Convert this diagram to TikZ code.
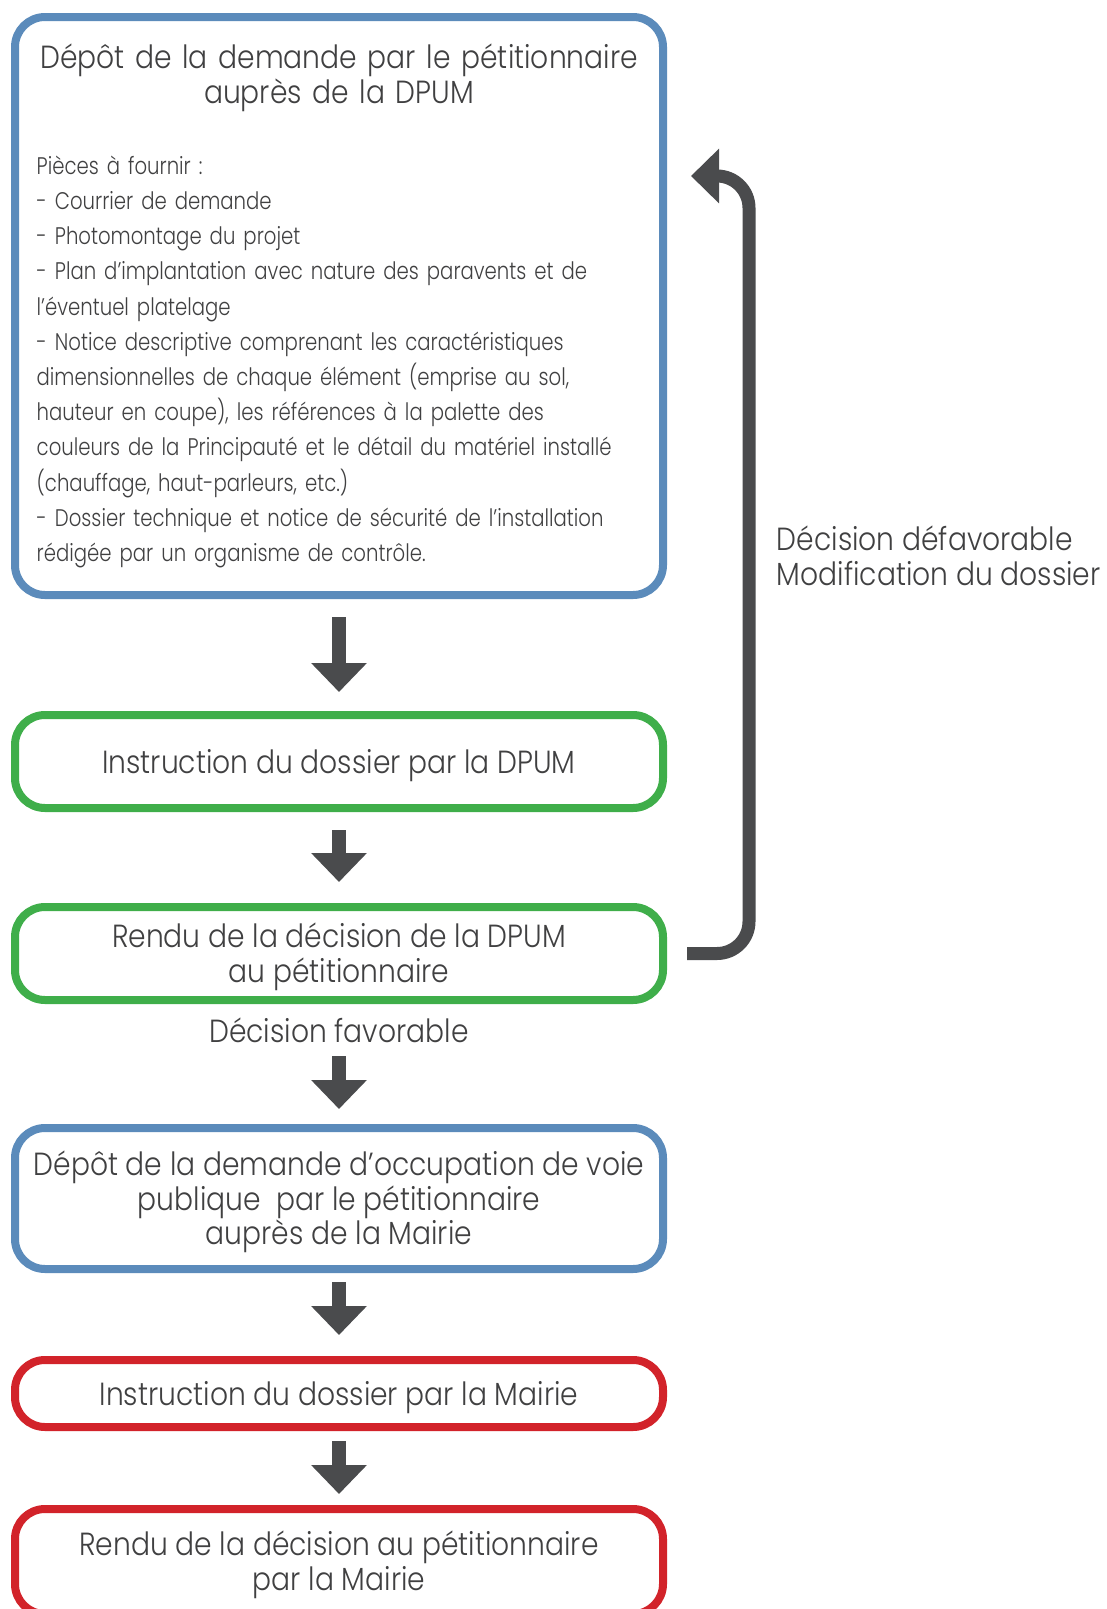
\documentclass[tikz,border=0pt]{standalone}
\usepackage{fontspec}
\setmainfont{Poppins Light}[FakeStretch=0.88]
\newfontfamily\piecesfamily{Poppins Light}[FakeStretch=0.82]
\usetikzlibrary{arrows.meta}

\definecolor{dpumblue}{HTML}{5B8BBB}
\definecolor{dpumgreen}{HTML}{3FAE4A}
\definecolor{mairiered}{HTML}{D2232A}
\definecolor{arrowgray}{HTML}{4A4B4D}
\definecolor{textgray}{HTML}{404041}

\newcommand{\boxfont}{\fontsize{32}{34.7}\selectfont}
\newcommand{\piecesfont}{\piecesfamily\fontsize{24}{35.2}\selectfont
  \spaceskip=8pt plus 0.5pt minus 0.5pt}

\tikzset{
  box/.style={draw=#1, line width=8pt, rounded corners=30pt, minimum width=648pt,
    inner sep=0pt, outer sep=0pt, align=center, font=\boxfont, text=textgray},
  capped/.style={text height=#1, text depth=0pt},
  flow/.style={draw=arrowgray, line width=14pt, -{Triangle[width=54pt,length=29pt]}},
  loopback/.style={draw=arrowgray, line width=13pt, rounded corners=32pt,
    -{Triangle[width=53pt,length=28pt]}},
}

\begin{document}
\begin{tikzpicture}[x=1pt,y=-1pt]
  \useasboundingbox (0,0) rectangle (1106,1609);

  % boxes
  \node[box=dpumblue, minimum height=578pt, text width=604.6pt, align=left] (depot) at (339,306)
    {{\centering Dépôt de la demande par le pétitionnaire\\ auprès de la DPUM\par}
     \vspace{35.5pt}
     {\piecesfont\raggedright Pièces à fournir :\\
      - Courrier de demande\\
      - Photomontage du projet\\
      - Plan d’implantation avec nature des paravents et de\\
      l’éventuel platelage\\
      - Notice descriptive comprenant les caractéristiques\\
      dimensionnelles de chaque élément (emprise au sol,\\
      hauteur en coupe), les références à la palette des\\
      couleurs de la Principauté et le détail du matériel installé\\
      (chauffage, haut-parleurs, etc.)\\
      - Dossier technique et notice de sécurité de l’installation\\
      rédigée par un organisme de contrôle.\par}};
  \node[box=dpumgreen, capped=23pt, minimum height=93pt] (instr) at (339,761.5) {Instruction du dossier par la DPUM};
  \node[box=dpumgreen, capped=57.7pt, minimum height=93pt] (rendu) at (339,953.5) {Rendu de la décision de la DPUM\\au pétitionnaire};
  \node[font=\boxfont, text=textgray, anchor=base, inner sep=0pt] (fav) at (339,1042) {Décision favorable};
  \node[box=dpumblue, capped=92.4pt, minimum height=141pt] (mairie) at (339,1198.5)
    {Dépôt de la demande d’occupation de voie\\publique~ par le pétitionnaire\\auprès de la Mairie};
  \node[box=mairiered, capped=23pt, minimum height=67pt] (instrm) at (339,1393.5) {Instruction du dossier par la Mairie};
  \node[box=mairiered, capped=57.7pt, minimum height=105pt] (rendum) at (339,1561.5) {Rendu de la décision au pétitionnaire\\par la Mairie};

  % side label
  \node[font=\boxfont, text=textgray, anchor=base west, align=left, inner sep=0pt] (defav) at (776.7,585)
    {Décision défavorable\\Modification du dossier};

  % arrows
  \foreach \from/\to/\s/\e in {depot/instr/22/23,instr/rendu/22/25,mairie/instrm/13/25,instrm/rendum/14/15}
    \draw[flow, shorten <=\s pt, shorten >=\e pt] (\from.south) -- (\to.north);
  \draw[flow, shorten <=14pt, shorten >=19pt] (fav.base) -- (mairie.north);

  \coordinate (turn) at (749,176);
  \draw[loopback, shorten <=24pt, shorten >=28pt] (rendu.east) -| (turn) -- (depot.east |- turn);
\end{tikzpicture}
\end{document}
